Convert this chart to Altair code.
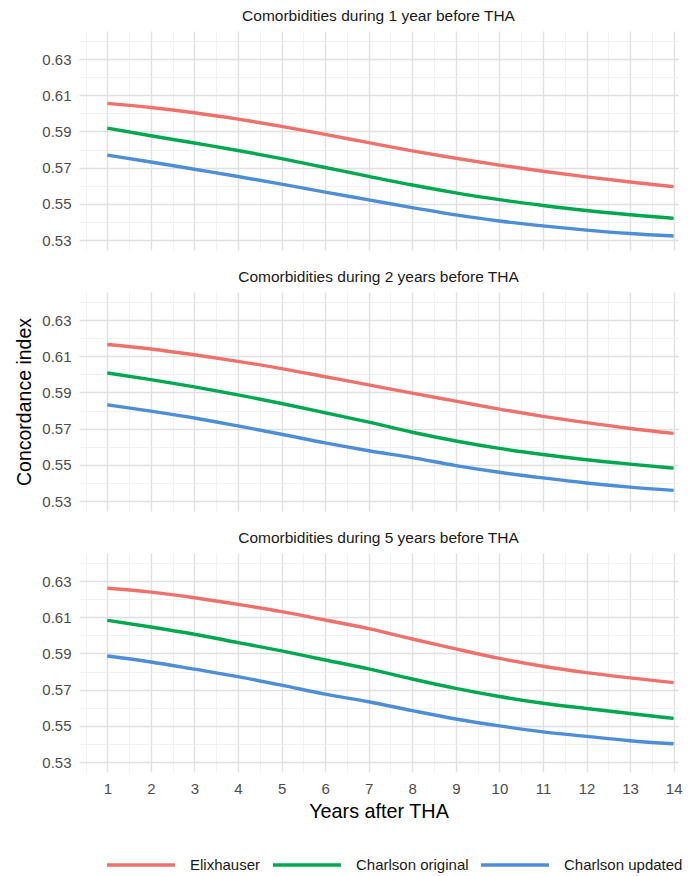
import altair as alt
import pandas as pd

years = list(range(1, 15))
series_names = ["Elixhauser", "Charlson original", "Charlson updated"]
series_colors = ["#F0706C", "#00A94F", "#4C8ED8"]
panel_titles = [
    "Comorbidities during 1 year before THA",
    "Comorbidities during 2 years before THA",
    "Comorbidities during 5 years before THA",
]

# Panel 1: comorbidities during 1 year before THA
p1_elix = [0.6055, 0.6032, 0.6003, 0.5968, 0.5928, 0.5884, 0.5838, 0.5793, 0.5752, 0.5714, 0.5680, 0.5649, 0.5621, 0.5595]
p1_cho = [0.5918, 0.5876, 0.5836, 0.5795, 0.5750, 0.5701, 0.5652, 0.5604, 0.5561, 0.5523, 0.5491, 0.5463, 0.5440, 0.5420]
p1_chu = [0.5769, 0.5731, 0.5691, 0.5651, 0.5609, 0.5565, 0.5522, 0.5479, 0.5439, 0.5405, 0.5378, 0.5355, 0.5336, 0.5322]
# Panel 2: comorbidities during 2 years before THA
p2_elix = [0.6165, 0.6140, 0.6108, 0.6072, 0.6032, 0.5987, 0.5942, 0.5896, 0.5852, 0.5808, 0.5768, 0.5733, 0.5701, 0.5674]
p2_cho = [0.6008, 0.5971, 0.5931, 0.5887, 0.5839, 0.5788, 0.5736, 0.5680, 0.5632, 0.5591, 0.5557, 0.5528, 0.5504, 0.5482]
p2_chu = [0.5832, 0.5797, 0.5759, 0.5715, 0.5669, 0.5621, 0.5578, 0.5540, 0.5496, 0.5459, 0.5428, 0.5400, 0.5377, 0.5359]
# Panel 3: comorbidities during 5 years before THA
p3_elix = [0.6260, 0.6239, 0.6208, 0.6171, 0.6131, 0.6085, 0.6037, 0.5980, 0.5925, 0.5873, 0.5829, 0.5794, 0.5765, 0.5739]
p3_cho = [0.6083, 0.6046, 0.6006, 0.5960, 0.5914, 0.5864, 0.5815, 0.5759, 0.5707, 0.5662, 0.5625, 0.5596, 0.5568, 0.5541]
p3_chu = [0.5886, 0.5853, 0.5813, 0.5772, 0.5725, 0.5675, 0.5633, 0.5584, 0.5538, 0.5500, 0.5467, 0.5442, 0.5418, 0.5401]

x_grid = [0.5 * i for i in range(1, 29)]
y_grid = [0.53, 0.54, 0.55, 0.56, 0.57, 0.58, 0.59, 0.60, 0.61, 0.62, 0.63, 0.64]

panels = [
    (p1_elix, p1_cho, p1_chu),
    (p2_elix, p2_cho, p2_chu),
    (p3_elix, p3_cho, p3_chu),
]

FONT = "Liberation Sans"
MAJOR = "#E0E0E0"
MINOR = "#EEEEEE"


def make_df(vals):
    rows = []
    for name, series in zip(series_names, vals):
        for yr, v in zip(years, series):
            rows.append({"year": yr, "index": name, "value": v})
    return pd.DataFrame(rows)


def panel(i):
    df = make_df(panels[i])
    show_x = i == 2
    x_axis = alt.Axis(
        values=x_grid,
        labelExpr="datum.value % 1 === 0 ? format(datum.value, 'd') : ''",
        labels=show_x,
        title="Years after THA" if show_x else None,
        domain=False,
        ticks=False,
        labelFontSize=15,
        labelColor="#4D4D4D",
        labelPadding=9,
        titleFontSize=19.8,
        titleFontWeight="normal",
        titleColor="#000000",
        titlePadding=5,
        gridColor={"condition": {"test": "datum.value % 1 === 0", "value": MAJOR}, "value": MINOR},
        gridWidth={"condition": {"test": "datum.value % 1 === 0", "value": 1.4}, "value": 0.8},
    )
    y_axis = alt.Axis(
        values=y_grid,
        labelExpr="round(datum.value * 100) % 2 === 1 ? format(datum.value, '.2f') : ''",
        title="Concordance index" if i == 1 else None,
        domain=False,
        ticks=False,
        labelFontSize=15,
        labelColor="#4D4D4D",
        labelPadding=8,
        titleFontSize=19.5,
        titleFontWeight="normal",
        titleColor="#000000",
        titlePadding=7,
        gridColor={"condition": {"test": "round(datum.value * 100) % 2 === 1", "value": MAJOR}, "value": MINOR},
        gridWidth={"condition": {"test": "round(datum.value * 100) % 2 === 1", "value": 1.4}, "value": 0.8},
    )
    return (
        alt.Chart(
            df,
            title=alt.TitleParams(
                panel_titles[i], fontSize=15.5, fontWeight="normal", color="#1A1A1A",
                anchor="middle", offset=6.5,
            ),
        )
        .mark_line(strokeWidth=3.4, interpolate="monotone")
        .encode(
            x=alt.X("year:Q", scale=alt.Scale(domain=[0.35, 14.1], nice=False, zero=False), axis=x_axis),
            y=alt.Y("value:Q", scale=alt.Scale(domain=[0.5245, 0.6455], nice=False, zero=False), axis=y_axis),
            color=alt.Color(
                "index:N",
                scale=alt.Scale(domain=series_names, range=series_colors),
                sort=series_names,
                legend=alt.Legend(
                    title=None,
                    orient="none",
                    direction="horizontal",
                    legendX=26,
                    legendY=798,
                    symbolType="stroke",
                    symbolSize=4624,
                    symbolStrokeWidth=3.5,
                    labelFontSize=15,
                    labelColor="#1A1A1A",
                    labelOffset=13,
                    columnPadding=5,
                ),
            ),
        )
        .properties(width=599, height=219)
    )


chart = (
    alt.vconcat(panel(0), panel(1), panel(2), spacing=20)
    .properties(padding={"left": 6, "top": 1, "right": 0, "bottom": 0})
    .configure(font=FONT)
    .configure_view(stroke=None)
)

chart.save("out.html", embed_options={"renderer": "svg", "actions": False})
